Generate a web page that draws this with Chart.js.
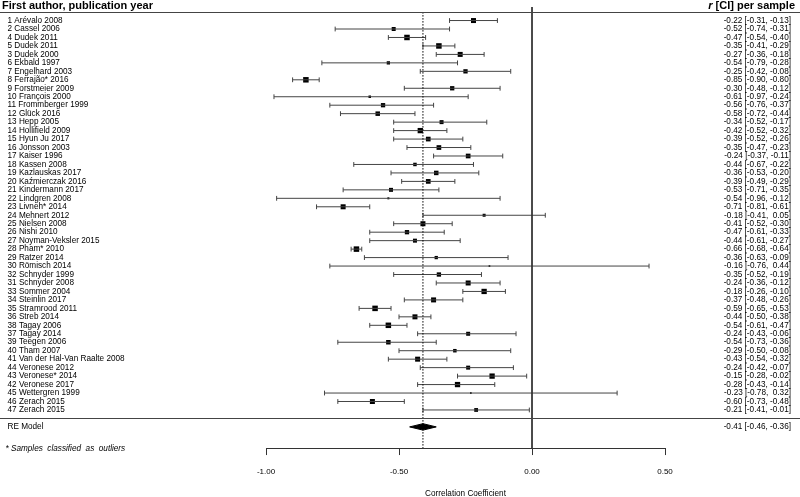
<!DOCTYPE html>
<html>
<head>
<meta charset="utf-8">
<script src="https://cdn.jsdelivr.net/npm/chart.js@4.4.1/dist/chart.umd.min.js"></script>
<style>
  html, body { margin: 0; padding: 0; background: #fff; }
  #wrap { width: 800px; height: 497px; }
</style>
</head>
<body>
<div id="wrap"><canvas id="forest"></canvas></div>
<script>
// study labels, top to bottom
const studies = ['1 Arévalo 2008', '2 Cassel 2006', '4 Dudek 2011', '5 Dudek 2011', '3 Dudek 2000',
  '6 Ekbald 1997', '7 Engelhard 2003', '8 Ferrajão* 2016', '9 Forstmeier 2009', '10 François 2000',
  '11 Frommberger 1999', '12 Glück 2016', '13 Hepp 2005', '14 Hollifield 2009', '15 Hyun Ju 2017',
  '16 Jonsson 2003', '17 Kaiser 1996', '18 Kassen 2008', '19 Kazlauskas 2017', '20 Kaźmierczak 2016',
  '21 Kindermann 2017', '22 Lindgren 2008', '23 Livneh* 2014', '24 Mehnert 2012', '25 Nielsen 2008',
  '26 Nishi 2010', '27 Noyman-Veksler 2015', '28 Pham* 2010', '29 Ratzer 2014', '30 Römisch 2014',
  '32 Schnyder 1999', '31 Schnyder 2008', '33 Sommer 2004', '34 Steinlin 2017', '35 Stramrood 2011',
  '36 Streb 2014', '38 Tagay 2006', '37 Tagay 2014', '39 Teegen 2006', '40 Tham 2007',
  '41 Van der Hal-Van Raalte 2008', '44 Veronese 2012', '43 Veronese* 2014', '42 Veronese 2017',
  '45 Wettergren 1999', '46 Zerach 2015', '47 Zerach 2015'];

const estimates = [-0.22, -0.52, -0.47, -0.35, -0.27, -0.54, -0.25, -0.85, -0.30, -0.61,
  -0.56, -0.58, -0.34, -0.42, -0.39, -0.35, -0.24, -0.44, -0.36, -0.39,
  -0.53, -0.54, -0.71, -0.18, -0.41, -0.47, -0.44, -0.66, -0.36, -0.16,
  -0.35, -0.24, -0.18, -0.37, -0.59, -0.44, -0.54, -0.24, -0.54, -0.29,
  -0.43, -0.24, -0.15, -0.28, -0.23, -0.60, -0.21];
const lower = [-0.31, -0.74, -0.54, -0.41, -0.36, -0.79, -0.42, -0.90, -0.48, -0.97,
  -0.76, -0.72, -0.52, -0.52, -0.52, -0.47, -0.37, -0.67, -0.53, -0.49,
  -0.71, -0.96, -0.81, -0.41, -0.52, -0.61, -0.61, -0.68, -0.63, -0.76,
  -0.52, -0.36, -0.26, -0.48, -0.65, -0.50, -0.61, -0.43, -0.73, -0.50,
  -0.54, -0.42, -0.28, -0.43, -0.78, -0.73, -0.41];
const upper = [-0.13, -0.31, -0.40, -0.29, -0.18, -0.28, -0.08, -0.80, -0.12, -0.24,
  -0.37, -0.44, -0.17, -0.32, -0.26, -0.23, -0.11, -0.22, -0.20, -0.29,
  -0.35, -0.12, -0.61, 0.05, -0.30, -0.33, -0.27, -0.64, -0.09, 0.44,
  -0.19, -0.12, -0.10, -0.26, -0.53, -0.38, -0.47, -0.06, -0.36, -0.08,
  -0.32, -0.07, -0.02, -0.14, 0.32, -0.48, -0.01];
// relative study weights (%)
const weights = [2.5, 2.0, 2.75, 2.75, 2.5, 1.65, 2.15, 2.75, 2.15, 1.25,
  2.15, 2.25, 2.0, 2.65, 2.35, 2.35, 2.35, 1.75, 2.25, 2.35,
  2.0, 1.0, 2.5, 1.5, 2.5, 2.15, 2.0, 2.75, 1.65, 0.85,
  2.15, 2.5, 2.65, 2.5, 2.75, 2.5, 2.75, 2.0, 2.25, 1.75,
  2.5, 2.0, 2.65, 2.65, 0.85, 2.5, 1.9];

// random effects model: estimate, lower, upper
const reModel = [-0.41, -0.46, -0.36];
const xTicks = [-1, -0.5, 0, 0.5];

const FONT = '"Liberation Sans", Arial, Helvetica, sans-serif';
const reRow = studies.length + 2;   // 49
const yTop = -0.6, yBottom = 51.5;

const ciText = i => estimates[i].toFixed(2) + ' [' + lower[i].toFixed(2) + ', ' +
  (upper[i] >= 0 ? ' ' : '') + upper[i].toFixed(2) + ']';

const ciData = [];
studies.forEach((s, i) => {
  ciData.push({x: lower[i], y: i + 1}, {x: upper[i], y: i + 1}, {x: null, y: null});
});
const pointData = estimates.map((v, i) => ({x: v, y: i + 1}));

const forestText = {
  id: 'forestText',
  afterDraw(chart) {
    const {ctx, scales: {y}} = chart;
    const W = chart.width;
    ctx.save();
    ctx.fillStyle = '#000';

    // header
    ctx.textBaseline = 'alphabetic';
    ctx.font = 'bold 11px ' + FONT;
    ctx.textAlign = 'left';
    ctx.fillText('First author, publication year', 2, 8.5);
    ctx.textAlign = 'right';
    const rest = ' [CI] per sample';
    ctx.fillText(rest, 795, 8.5);
    const rw = ctx.measureText(rest).width;
    ctx.font = 'italic bold 11px ' + FONT;
    ctx.fillText('r', 795 - rw, 8.5);

    // separator lines
    ctx.strokeStyle = '#444';
    ctx.lineWidth = 1.2;
    [0, studies.length + 1].forEach(v => {
      const py = Math.round(y.getPixelForValue(v)) + 0.5;
      ctx.beginPath();
      ctx.moveTo(0, py);
      ctx.lineTo(W, py);
      ctx.stroke();
    });

    // study rows
    ctx.font = '8.2px ' + FONT;
    ctx.textBaseline = 'middle';
    studies.forEach((s, i) => {
      const py = y.getPixelForValue(i + 1);
      ctx.textAlign = 'left';
      ctx.fillText(s, 7.5, py);
      ctx.textAlign = 'right';
      ctx.fillText(ciText(i), 791, py);
    });

    // RE model row
    const pr = y.getPixelForValue(reRow);
    ctx.textAlign = 'left';
    ctx.fillText('RE Model', 7.5, pr);
    ctx.textAlign = 'right';
    ctx.fillText(reModel[0].toFixed(2) + ' [' + reModel[1].toFixed(2) + ', ' + reModel[2].toFixed(2) + ']', 791, pr);

    // footnote
    ctx.textAlign = 'left';
    ctx.font = 'italic 8.2px ' + FONT;
    ctx.fillText('* Samples  classified  as  outliers', 5.5, 448.5);
    ctx.restore();
  }
};

new Chart(document.getElementById('forest'), {
  type: 'scatter',
  data: {
    datasets: [
      {
        // line of no effect
        data: [{x: 0, y: yTop}, {x: 0, y: yBottom}],
        showLine: true, borderColor: '#333', borderWidth: 1, pointRadius: 0
      },
      {
        // pooled estimate reference
        data: [{x: reModel[0], y: 0}, {x: reModel[0], y: yBottom}],
        showLine: true, borderColor: '#000', borderWidth: 1, borderDash: [1.5, 1.5], pointRadius: 0
      },
      {
        // confidence intervals with end caps
        data: ciData,
        showLine: true, spanGaps: false, borderColor: '#444', borderWidth: 1,
        pointStyle: 'line', pointRotation: 90, pointRadius: 2.4,
        pointBorderColor: '#444', pointBorderWidth: 1
      },
      {
        // study estimates, sized by weight
        data: pointData,
        pointStyle: 'rect', backgroundColor: '#000', borderWidth: 0,
        pointRadius: c => weights[c.dataIndex] * 1.414
      },
      {
        // RE diamond, upper half
        data: [{x: reModel[1], y: reRow}, {x: reModel[0], y: reRow - 0.38}, {x: reModel[2], y: reRow}],
        showLine: true, borderColor: '#000', borderWidth: 1, backgroundColor: '#000',
        fill: {value: reRow}, pointRadius: 0
      },
      {
        // RE diamond, lower half
        data: [{x: reModel[1], y: reRow}, {x: reModel[0], y: reRow + 0.38}, {x: reModel[2], y: reRow}],
        showLine: true, borderColor: '#000', borderWidth: 1, backgroundColor: '#000',
        fill: {value: reRow}, pointRadius: 0
      }
    ]
  },
  options: {
    responsive: true,
    maintainAspectRatio: false,
    animation: false,
    layout: { padding: { left: 266, right: 135, top: 7, bottom: 0 } },
    plugins: { legend: { display: false }, tooltip: { enabled: false } },
    scales: {
      x: {
        type: 'linear', min: -1, max: 0.5,
        afterBuildTicks: axis => { axis.ticks = xTicks.map(v => ({value: v})); },
        grid: { drawOnChartArea: false, tickLength: 7, color: '#333', lineWidth: 1 },
        border: { display: true, color: '#333', width: 1 },
        ticks: { color: '#000', font: { family: FONT, size: 8 }, padding: 12, callback: v => v.toFixed(2) },
        title: { display: true, text: 'Correlation Coefficient', color: '#000',
          font: { family: FONT, size: 8.2 }, padding: { top: 0, bottom: -1.5 } }
      },
      y: { type: 'linear', display: false, reverse: true, min: yTop, max: yBottom }
    }
  },
  plugins: [forestText]
});
</script>
</body>
</html>
